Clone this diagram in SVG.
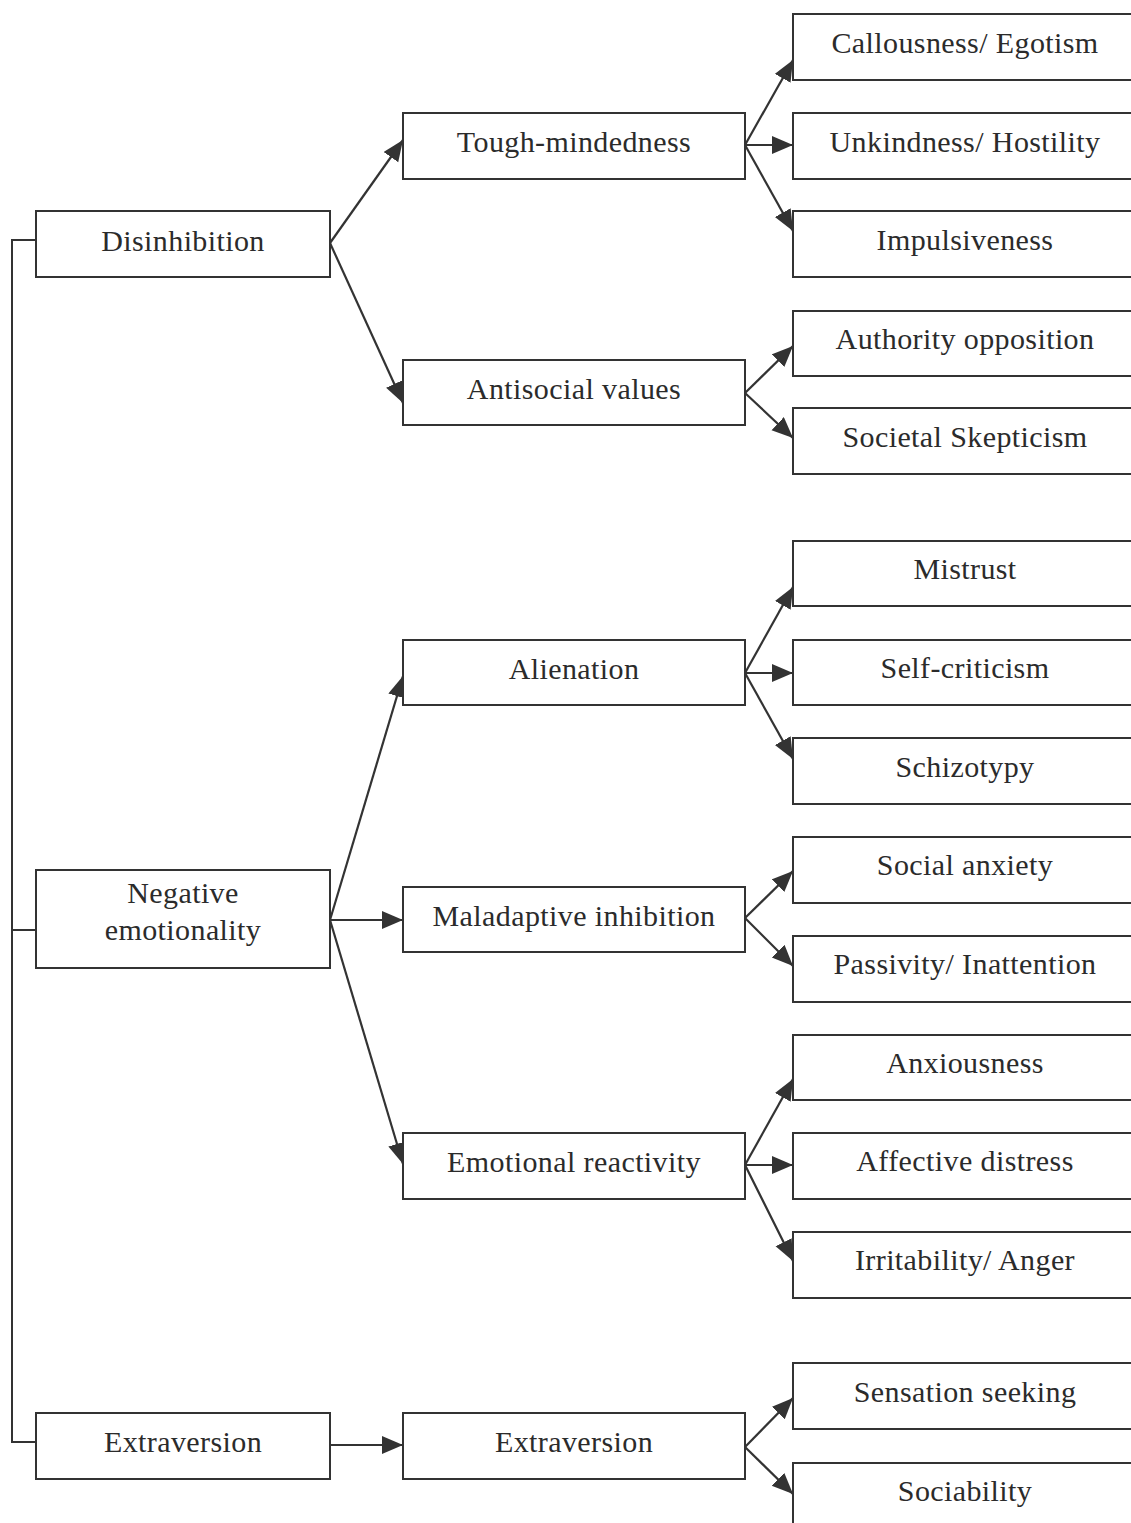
<svg xmlns="http://www.w3.org/2000/svg" width="1131" height="1523" viewBox="0 0 1131 1523">
<style>
.box{fill:#fff;stroke:#333;stroke-width:2}
.t{font-family:"Liberation Serif","Times New Roman",serif;font-size:30px;fill:#2b2b2b;text-anchor:middle;letter-spacing:0.4px}
.c{fill:none;stroke:#333;stroke-width:2}
.a{fill:none;stroke:#333;stroke-width:2.2;marker-end:url(#ah)}
</style>
<defs>
<marker id="ah" markerUnits="userSpaceOnUse" markerWidth="24" markerHeight="20" refX="21" refY="9" orient="auto">
<path d="M0,0 L21,9 L0,18 Z" fill="#333"/>
</marker>
</defs>
<rect width="1131" height="1523" fill="#fff"/>
<g id="connectors">
<path class="c" d="M36,240 H12 V1442 H36 M12,930 H36"/>
<line class="a" x1="330" y1="243" x2="403" y2="140"/>
<line class="a" x1="330" y1="243" x2="403" y2="403"/>
<line class="a" x1="330" y1="920" x2="403" y2="676"/>
<line class="a" x1="330" y1="920" x2="403" y2="920"/>
<line class="a" x1="330" y1="920" x2="403" y2="1164"/>
<line class="a" x1="330" y1="1445" x2="403" y2="1445"/>
<line class="a" x1="745" y1="145" x2="793" y2="60"/>
<line class="a" x1="745" y1="145" x2="793" y2="145"/>
<line class="a" x1="745" y1="145" x2="793" y2="231"/>
<line class="a" x1="745" y1="393" x2="793" y2="346"/>
<line class="a" x1="745" y1="393" x2="793" y2="438"/>
<line class="a" x1="745" y1="673" x2="793" y2="587"/>
<line class="a" x1="745" y1="673" x2="793" y2="673"/>
<line class="a" x1="745" y1="673" x2="793" y2="759"/>
<line class="a" x1="745" y1="918" x2="793" y2="871"/>
<line class="a" x1="745" y1="918" x2="793" y2="966"/>
<line class="a" x1="745" y1="1165" x2="793" y2="1079"/>
<line class="a" x1="745" y1="1165" x2="793" y2="1165"/>
<line class="a" x1="745" y1="1165" x2="793" y2="1261"/>
<line class="a" x1="745" y1="1447" x2="793" y2="1398"/>
<line class="a" x1="745" y1="1447" x2="793" y2="1494"/>
</g>
<g id="n-disinhibition"><rect class="box" x="36" y="211" width="294" height="66"/><text class="t" x="183" y="251">Disinhibition</text></g>
<g id="n-negemo"><rect class="box" x="36" y="870" width="294" height="98"/><text class="t" x="183" y="903">Negative</text><text class="t" x="183" y="940">emotionality</text></g>
<g id="n-extraversion1"><rect class="box" x="36" y="1413" width="294" height="66"/><text class="t" x="183" y="1452">Extraversion</text></g>
<g id="n-tough"><rect class="box" x="403" y="113" width="342" height="66"/><text class="t" x="574" y="152">Tough-mindedness</text></g>
<g id="n-antisocial"><rect class="box" x="403" y="360" width="342" height="65"/><text class="t" x="574" y="399">Antisocial values</text></g>
<g id="n-alienation"><rect class="box" x="403" y="640" width="342" height="65"/><text class="t" x="574" y="679">Alienation</text></g>
<g id="n-maladaptive"><rect class="box" x="403" y="887" width="342" height="65"/><text class="t" x="574" y="926">Maladaptive inhibition</text></g>
<g id="n-emotional"><rect class="box" x="403" y="1133" width="342" height="66"/><text class="t" x="574" y="1172">Emotional reactivity</text></g>
<g id="n-extraversion2"><rect class="box" x="403" y="1413" width="342" height="66"/><text class="t" x="574" y="1452">Extraversion</text></g>
<g id="n-callousness"><rect class="box" x="793" y="14" width="360" height="66"/><text class="t" x="965" y="53">Callousness/ Egotism</text></g>
<g id="n-unkindness"><rect class="box" x="793" y="113" width="360" height="66"/><text class="t" x="965" y="152">Unkindness/ Hostility</text></g>
<g id="n-impulsiveness"><rect class="box" x="793" y="211" width="360" height="66"/><text class="t" x="965" y="250">Impulsiveness</text></g>
<g id="n-authority"><rect class="box" x="793" y="311" width="360" height="65"/><text class="t" x="965" y="349">Authority opposition</text></g>
<g id="n-societal"><rect class="box" x="793" y="408" width="360" height="66"/><text class="t" x="965" y="447">Societal Skepticism</text></g>
<g id="n-mistrust"><rect class="box" x="793" y="541" width="360" height="65"/><text class="t" x="965" y="579">Mistrust</text></g>
<g id="n-selfcrit"><rect class="box" x="793" y="640" width="360" height="65"/><text class="t" x="965" y="678">Self-criticism</text></g>
<g id="n-schizotypy"><rect class="box" x="793" y="738" width="360" height="66"/><text class="t" x="965" y="777">Schizotypy</text></g>
<g id="n-socanx"><rect class="box" x="793" y="837" width="360" height="66"/><text class="t" x="965" y="875">Social anxiety</text></g>
<g id="n-passivity"><rect class="box" x="793" y="936" width="360" height="66"/><text class="t" x="965" y="974">Passivity/ Inattention</text></g>
<g id="n-anxiousness"><rect class="box" x="793" y="1035" width="360" height="65"/><text class="t" x="965" y="1073">Anxiousness</text></g>
<g id="n-affective"><rect class="box" x="793" y="1133" width="360" height="66"/><text class="t" x="965" y="1171">Affective distress</text></g>
<g id="n-irritability"><rect class="box" x="793" y="1232" width="360" height="66"/><text class="t" x="965" y="1270">Irritability/ Anger</text></g>
<g id="n-sensation"><rect class="box" x="793" y="1363" width="360" height="66"/><text class="t" x="965" y="1402">Sensation seeking</text></g>
<g id="n-sociability"><rect class="box" x="793" y="1463" width="360" height="80"/><text class="t" x="965" y="1501">Sociability</text></g>
</svg>
